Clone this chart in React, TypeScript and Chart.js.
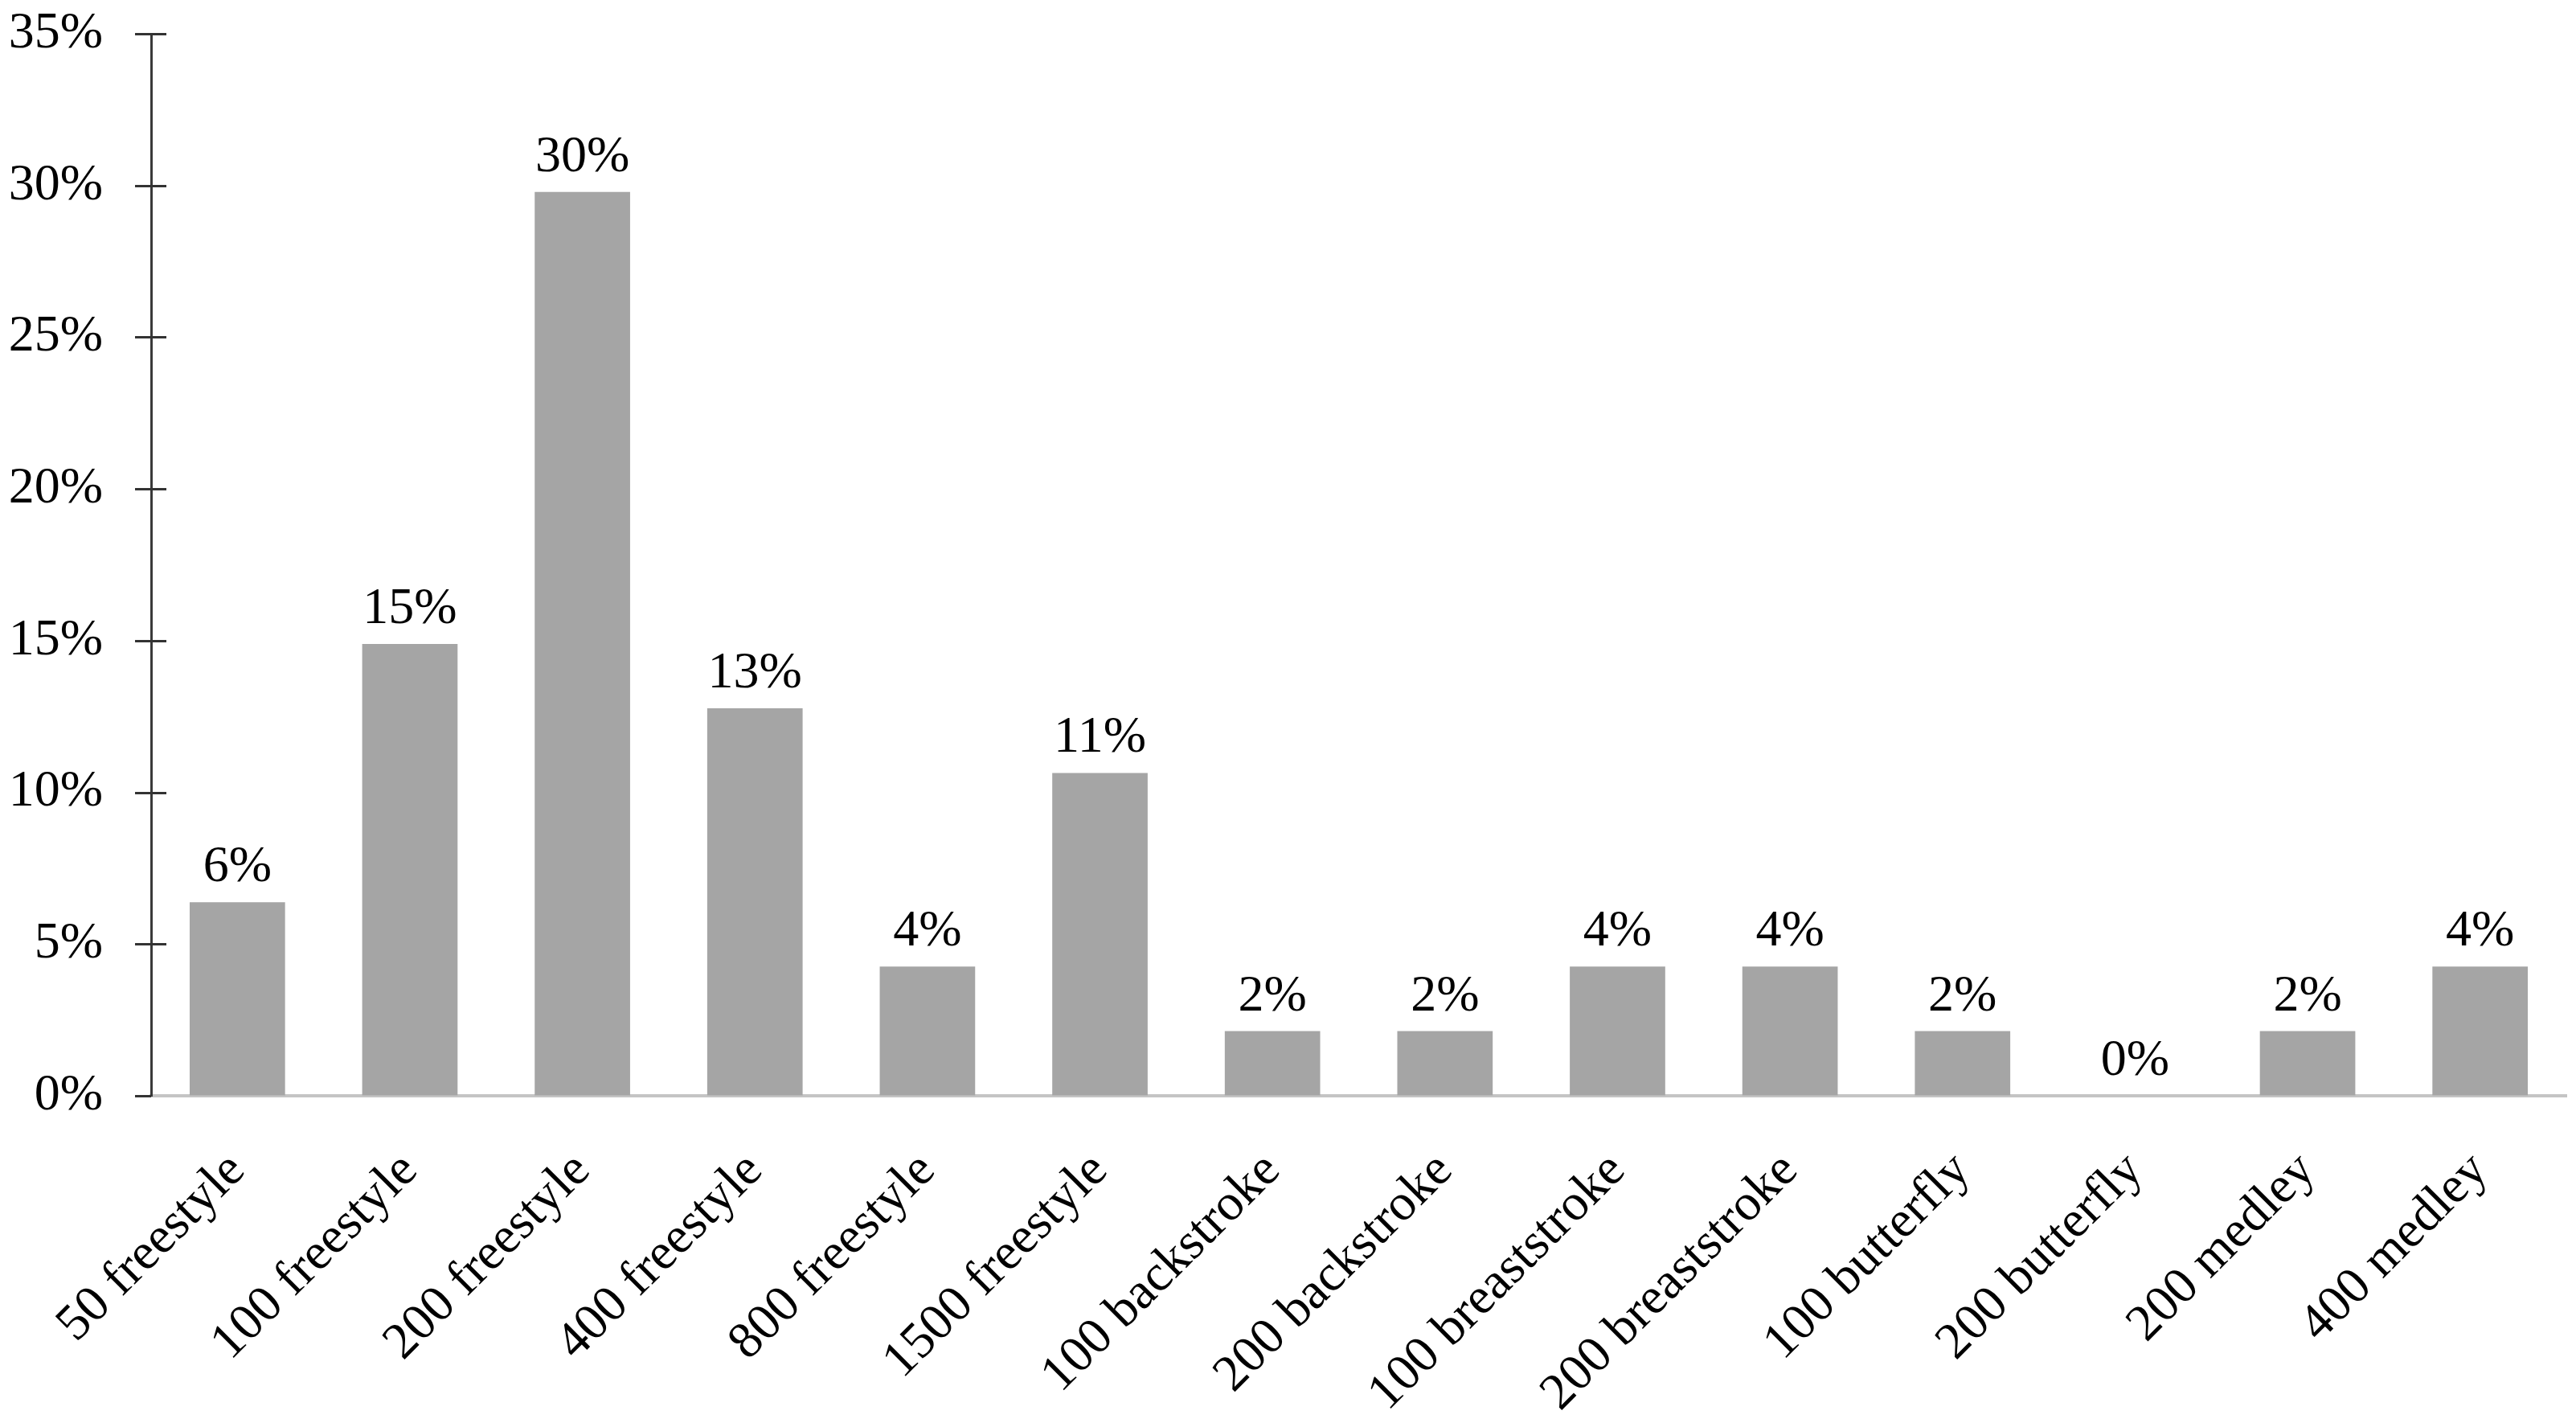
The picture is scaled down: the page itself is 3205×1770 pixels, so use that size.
import React, { useEffect, useRef } from "react";
import { Chart, registerables } from "chart.js";

Chart.register(...registerables);

const categories = [
  "50 freestyle",
  "100 freestyle",
  "200 freestyle",
  "400 freestyle",
  "800 freestyle",
  "1500 freestyle",
  "100 backstroke",
  "200 backstroke",
  "100 breaststroke",
  "200 breaststroke",
  "100 butterfly",
  "200 butterfly",
  "200 medley",
  "400 medley",
];

const shares = [
  0.0638, 0.1489, 0.2979, 0.1277, 0.0426, 0.1064, 0.0213, 0.0213, 0.0426,
  0.0426, 0.0213, 0, 0.0213, 0.0426,
];

const yTicks = [0, 0.05, 0.1, 0.15, 0.2, 0.25, 0.3, 0.35];

const FONT = "'Liberation Serif', 'Times New Roman', serif";

const pct = (v: number) => Math.round(v * 100) + "%";

const dataLabelPlugin = {
  id: "dataLabels",
  afterDatasetsDraw(chart: any) {
    const ctx = chart.ctx;
    const meta = chart.getDatasetMeta(0);
    ctx.save();
    ctx.font = `64px ${FONT}`;
    ctx.fillStyle = "#000";
    ctx.textAlign = "center";
    ctx.textBaseline = "alphabetic";
    meta.data.forEach((bar: any, i: number) => {
      ctx.fillText(pct(shares[i]), bar.x, bar.y - 26);
    });
    ctx.restore();
  },
};

const yTickMarks = {
  id: "yTickMarks",
  afterDraw(chart: any) {
    const ctx = chart.ctx;
    const y = chart.scales.y;
    const left = chart.chartArea.left;
    ctx.save();
    ctx.strokeStyle = "#333";
    ctx.lineWidth = 3;
    yTicks.forEach((v) => {
      const py = Math.round(y.getPixelForValue(v)) + 0.5;
      ctx.beginPath();
      ctx.moveTo(left - 20, py);
      ctx.lineTo(v === 0 ? left : left + 19, py);
      ctx.stroke();
    });
    ctx.restore();
  },
};

export default function App() {
  const ref = useRef<HTMLCanvasElement>(null);
  useEffect(() => {
    if (!ref.current) return;
    const chart = new Chart(ref.current, {
      type: "bar",
      data: {
        labels: categories,
        datasets: [
          {
            data: shares,
            backgroundColor: "#A5A5A5",
            borderWidth: 0,
            categoryPercentage: 1,
            barPercentage: 0.553,
          },
        ],
      },
      options: {
        responsive: false,
        animation: false,
        devicePixelRatio: 1,
        layout: { padding: { top: 42, right: 12, bottom: 0, left: 0 } },
        plugins: {
          legend: { display: false },
          tooltip: { enabled: false },
        },
        scales: {
          x: {
            z: 1,
            grid: {
              display: true,
              drawOnChartArea: false,
              drawTicks: true,
              tickLength: 56,
              tickColor: "rgba(0,0,0,0)",
            },
            border: { display: true, color: "#C4C4C4", width: 4 },
            ticks: {
              autoSkip: false,
              minRotation: 45,
              maxRotation: 45,
              padding: 0,
              color: "#000",
              font: { family: FONT, size: 64 },
            },
            afterFit: (s: any) => {
              s.height = 407;
            },
          },
          y: {
            min: 0,
            max: 0.35,
            grid: {
              display: true,
              drawOnChartArea: false,
              drawTicks: true,
              tickLength: 60,
              tickColor: "rgba(0,0,0,0)",
            },
            border: { display: true, color: "#3A3A3A", width: 3 },
            ticks: {
              stepSize: 0.05,
              padding: 0,
              color: "#000",
              font: { family: FONT, size: 64 },
              callback: (v: any) => pct(Number(v)),
            },
            afterFit: (s: any) => {
              s.width = 188;
            },
          },
        },
      },
      plugins: [dataLabelPlugin, yTickMarks],
    });
    return () => chart.destroy();
  }, []);
  return (
    <div style={{ position: "absolute", left: 0, top: 0, width: 3205, height: 1770, background: "#fff" }}>
      <canvas ref={ref} width={3205} height={1770} style={{ width: 3205, height: 1770 }} />
    </div>
  );
}
